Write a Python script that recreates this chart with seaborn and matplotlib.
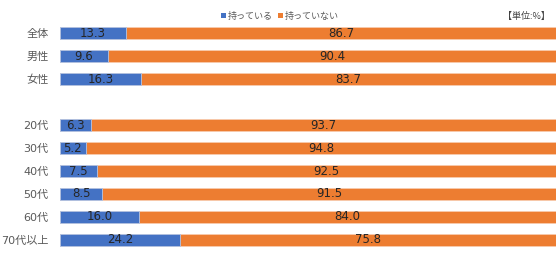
import matplotlib
matplotlib.use("Agg")
import matplotlib.pyplot as plt
import seaborn as sns
import pandas as pd
from matplotlib.patches import Patch

categories = ["全体", "男性", "女性", "20代", "30代", "40代", "50代", "60代", "70代以上"]
have = [13.3, 9.6, 16.3, 6.3, 5.2, 7.5, 8.5, 16.0, 24.2]
not_have = [86.7, 90.4, 83.7, 93.7, 94.8, 92.5, 91.5, 84.0, 75.8]
series_names = ["持っている", "持っていない"]
order = ["全体", "男性", "女性", " ", "20代", "30代", "40代", "50代", "60代", "70代以上"]

sns.set_theme(style="white")
plt.rcParams["font.family"] = ["Noto Sans CJK JP", "DejaVu Sans"]

BLUE = "#4472C4"
ORANGE = "#ED7D31"

df = pd.DataFrame({"cat": categories, "have": have, "not": not_have})
df["total"] = df["have"] + df["not"]

fig = plt.figure(figsize=(5.6, 2.54), dpi=100)
ax = fig.add_axes([0.107, 0.01, 0.886, 0.905])

sns.barplot(data=df, y="cat", x="total", order=order, color=ORANGE, saturation=1,
            width=0.55, edgecolor="#F8CBAD", linewidth=0.6, ax=ax, orient="h")
sns.barplot(data=df, y="cat", x="have", order=order, color=BLUE, saturation=1,
            width=0.55, edgecolor="#B4C7E7", linewidth=0.6, ax=ax, orient="h")

ax.set_xlim(0, 100)
ax.set_ylim(9.5, -0.5)
ax.set_xlabel("")
ax.set_ylabel("")
ax.set_xticks([])
for s in ax.spines.values():
    s.set_visible(False)
ax.tick_params(axis="y", length=0, pad=8, labelsize=8.5, labelcolor="#595959")
for t in ax.get_yticklabels():
    t.set_family(["DejaVu Sans", "Noto Sans CJK JP"])
    t.set_fontsize(8)

pos = {c: i for i, c in enumerate(order)}
for c, h, n in zip(categories, have, not_have):
    y = pos[c]
    ax.text(h / 2, y, f"{h:.1f}", ha="center", va="center", fontsize=8.5,
            color="#262626", family="DejaVu Sans")
    ax.text(h + n / 2, y, f"{n:.1f}", ha="center", va="center", fontsize=8.5,
            color="#262626", family="DejaVu Sans")

handles = [Patch(facecolor=BLUE, edgecolor="none"), Patch(facecolor=ORANGE, edgecolor="none")]
fig.legend(handles, series_names, loc="center", bbox_to_anchor=(0.5, 0.935), ncol=2,
           frameon=False, fontsize=6.5, labelcolor="#595959", handlelength=0.5,
           handleheight=0.5, handletextpad=0.2, columnspacing=0.6, borderpad=0)

fig.text(0.982, 0.935, "【単位:%】", ha="right", va="center", fontsize=6.5, color="#404040")

fig.savefig("out.png", dpi=100)
